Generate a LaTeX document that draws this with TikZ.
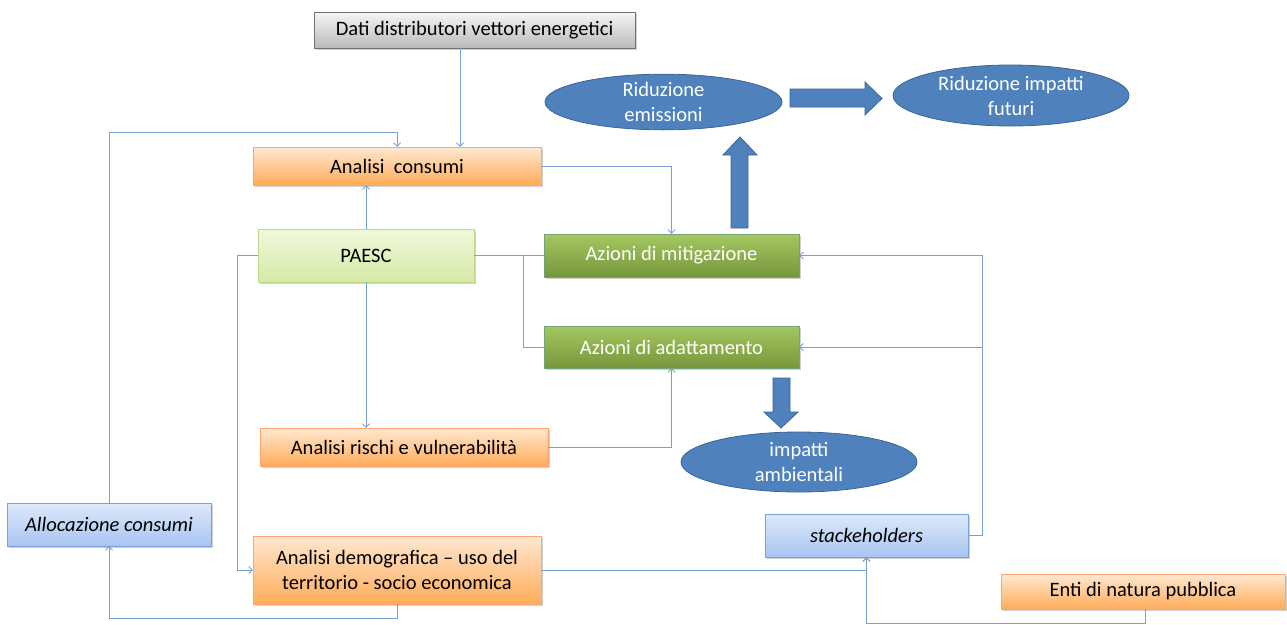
\documentclass[tikz,border=0pt]{standalone}
\usepackage{fontspec}
\setmainfont{Carlito}
\usetikzlibrary{shapes.geometric,arrows.meta,shadows,calc}
\definecolor{connc}{HTML}{76A0DA}
\definecolor{ellf}{HTML}{4F81BD}
\definecolor{elld}{HTML}{3A6597}
\begin{document}
\begin{tikzpicture}[x=1pt,y=-1pt,
  base/.style={rectangle, inner sep=0pt, align=center, font=\fontsize{20.5}{25}\selectfont,
    drop shadow={shadow xshift=1.5pt, shadow yshift=-1.5pt, opacity=0.3, fill=black!60}},
  orangebox/.style={base, draw=orange!70!red!55, top color=orange!18, bottom color=orange!65!white},
  greenbox/.style={base, draw=green!35!black!55, top color={rgb,255:red,166;green,200;blue,96},
    bottom color={rgb,255:red,118;green,150;blue,60}, text=white},
  lightgreen/.style={base, draw={rgb,255:red,190;green,215;blue,140}, top color={rgb,255:red,240;green,248;blue,220},
    bottom color={rgb,255:red,214;green,234;blue,166}},
  graybox/.style={base, draw=black!55, top color=black!4, bottom color=black!27},
  bluebox/.style={base, draw={rgb,255:red,125;green,160;blue,216}, top color={rgb,255:red,222;green,233;blue,250},
    bottom color={rgb,255:red,168;green,196;blue,242}, font=\fontsize{20.5}{25}\selectfont\itshape},
  ell/.style={ellipse, inner sep=0pt, draw=elld, line width=0.8pt, fill=ellf, text=white, align=center,
    font=\fontsize{20.5}{25}\selectfont},
  conn/.style={draw=connc, line width=0.9pt},
  arr/.style={conn, -{Straight Barb[length=3.5pt,width=7pt]}},
  bigarrow/.style={fill=ellf, draw=elld, line width=0.8pt}
]
\useasboundingbox (0,0) rectangle (1287,624);

% boxes
\node[graybox, minimum width=321pt, minimum height=36pt] (dati) at (474.5,30) {Dati distributori vettori energetici};
\node[orangebox, minimum width=288pt, minimum height=38pt] (consumi) at (397,166) {Analisi\ \ consumi};
\node[lightgreen, minimum width=216pt, minimum height=53pt] (paesc) at (366,255.5) {PAESC};
\node[greenbox, minimum width=255pt, minimum height=43pt] (mitig) at (671.5,255.5) {Azioni di mitigazione};
\node[greenbox, minimum width=255pt, minimum height=42pt] (adatt) at (671.5,347) {Azioni di adattamento};
\node[orangebox, minimum width=288pt, minimum height=38pt] (rischi) at (404,447) {Analisi rischi e vulnerabilità};
\node[orangebox, minimum width=288pt, minimum height=68pt] (demog) at (397,570) {Analisi demografica -- uso del\\territorio - socio economica};
\node[bluebox, minimum width=204pt, minimum height=43pt] (alloc) at (109,524.5) {Allocazione consumi};
\node[bluebox, minimum width=203pt, minimum height=43pt] (stake) at (866.5,535.5) {stackeholders};
\node[orangebox, minimum width=284pt, minimum height=35pt] (enti) at (1143,591.5) {Enti di natura pubblica};

% ellipses
\node[ell, minimum width=237pt, minimum height=55pt] (rem) at (663.5,102) {Riduzione\\emissioni};
\node[ell, minimum width=236pt, minimum height=61pt] (rif) at (1011,95.5) {Riduzione impatti\\futuri};
\node[ell, minimum width=236pt, minimum height=60pt] (imp) at (799,462) {impatti\\ambientali};

% big block arrows
\draw[bigarrow] (790,89) -- (865,89) -- (865,82) -- (882,98.5) -- (865,115) -- (865,107) -- (790,107) -- cycle;
\draw[bigarrow] (731,228) -- (731,155) -- (723,155) -- (740,137) -- (757,155) -- (748,155) -- (748,228) -- cycle;
\draw[bigarrow] (773,378) -- (773,412) -- (764,412) -- (781,428) -- (798,412) -- (790,412) -- (790,378) -- cycle;

% connectors
\coordinate (d1) at (460,48);
\draw[arr] (d1) -- (d1 |- consumi.north);
\coordinate (c1) at (109,132);
\draw[arr] (alloc.north) |- (c1) -| (consumi.north);
\draw[arr] (consumi.east) -| (mitig.north);
\draw[arr] (paesc.north) -- (paesc.north |- consumi.south);
\draw[arr] (paesc.south) -- (paesc.south |- rischi.north);
\draw[arr] (paesc.west) -- ++(-20,0) |- (demog.west);
\draw[conn] (paesc.east) -- (mitig.west);
\coordinate (j) at (523,255.5);
\draw[conn] (j) |- (adatt.west);
\draw[arr] (rischi.east) -| (adatt.south);
\coordinate (r) at (982,535.5);
\draw[arr] (stake.east) -- (r) |- (mitig.east);
\draw[arr] (r |- adatt.east) -- (adatt.east);
\draw[arr] (demog.east) -| (stake.south);
\draw[arr] ([xshift=2pt]enti.south) -- ++(0,14) -| (stake.south);
\draw[arr] (demog.south) -- ++(0,14) -| (alloc.south);
\end{tikzpicture}
\end{document}
